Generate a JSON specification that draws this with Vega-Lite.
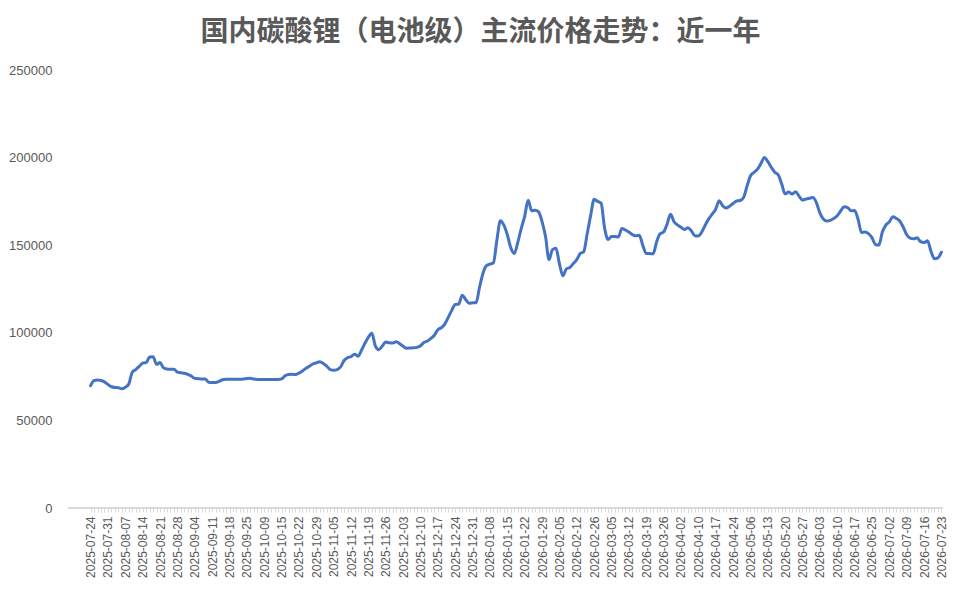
{
  "$schema": "https://vega.github.io/schema/vega-lite/v6.json",
  "width": 875,
  "height": 438,
  "autosize": {"type": "none"},
  "padding": {"left": 68, "top": 70, "right": 17, "bottom": 85},
  "background": "#ffffff",
  "config": {"view": {"stroke": null}, "font": "Liberation Sans"},
  "title": {
    "text": "国内碳酸锂（电池级）主流价格走势：近一年",
    "font": "Noto Sans CJK SC",
    "fontSize": 28,
    "fontWeight": "bold",
    "color": "#595959",
    "anchor": "middle",
    "dx": -25,
    "offset": 17
  },
  "data": {"values": [
    {"date":"2025-07-24","price":69800},{"date":"2025-07-25","price":72800},{"date":"2025-07-28","price":73000},{"date":"2025-07-29","price":72800},{"date":"2025-07-30","price":72000},
    {"date":"2025-07-31","price":70500},{"date":"2025-08-01","price":69200},{"date":"2025-08-04","price":68800},{"date":"2025-08-05","price":68700},{"date":"2025-08-06","price":68000},
    {"date":"2025-08-07","price":68900},{"date":"2025-08-08","price":70800},{"date":"2025-08-11","price":77500},{"date":"2025-08-12","price":79000},{"date":"2025-08-13","price":80800},
    {"date":"2025-08-14","price":82700},{"date":"2025-08-15","price":83000},{"date":"2025-08-18","price":86200},{"date":"2025-08-19","price":86300},{"date":"2025-08-20","price":82000},
    {"date":"2025-08-21","price":83000},{"date":"2025-08-22","price":80000},{"date":"2025-08-25","price":79300},{"date":"2025-08-26","price":79200},{"date":"2025-08-27","price":79200},
    {"date":"2025-08-28","price":77600},{"date":"2025-08-29","price":77200},{"date":"2025-09-01","price":76900},{"date":"2025-09-02","price":76300},{"date":"2025-09-03","price":75300},
    {"date":"2025-09-04","price":74000},{"date":"2025-09-05","price":73800},{"date":"2025-09-08","price":73600},{"date":"2025-09-09","price":73600},{"date":"2025-09-10","price":71800},
    {"date":"2025-09-11","price":71700},{"date":"2025-09-12","price":71700},{"date":"2025-09-15","price":72300},{"date":"2025-09-16","price":73200},{"date":"2025-09-17","price":73500},
    {"date":"2025-09-18","price":73500},{"date":"2025-09-19","price":73500},{"date":"2025-09-22","price":73500},{"date":"2025-09-23","price":73500},{"date":"2025-09-24","price":73600},
    {"date":"2025-09-25","price":73900},{"date":"2025-09-26","price":74000},{"date":"2025-09-28","price":73600},{"date":"2025-09-29","price":73400},{"date":"2025-09-30","price":73400},
    {"date":"2025-10-09","price":73400},{"date":"2025-10-10","price":73400},{"date":"2025-10-11","price":73400},{"date":"2025-10-13","price":73400},{"date":"2025-10-14","price":73400},
    {"date":"2025-10-15","price":73700},{"date":"2025-10-16","price":75500},{"date":"2025-10-17","price":76200},{"date":"2025-10-20","price":76300},{"date":"2025-10-21","price":76200},
    {"date":"2025-10-22","price":77000},{"date":"2025-10-23","price":78200},{"date":"2025-10-24","price":79700},{"date":"2025-10-27","price":80900},{"date":"2025-10-28","price":82200},
    {"date":"2025-10-29","price":82800},{"date":"2025-10-30","price":83500},{"date":"2025-10-31","price":82500},{"date":"2025-11-03","price":81000},{"date":"2025-11-04","price":79000},
    {"date":"2025-11-05","price":78600},{"date":"2025-11-06","price":79000},{"date":"2025-11-07","price":80500},{"date":"2025-11-10","price":84200},{"date":"2025-11-11","price":85800},
    {"date":"2025-11-12","price":86400},{"date":"2025-11-13","price":87800},{"date":"2025-11-14","price":86600},{"date":"2025-11-17","price":90000},{"date":"2025-11-18","price":94000},
    {"date":"2025-11-19","price":97500},{"date":"2025-11-20","price":99700},{"date":"2025-11-21","price":92500},{"date":"2025-11-24","price":90300},{"date":"2025-11-25","price":92500},
    {"date":"2025-11-26","price":94700},{"date":"2025-11-27","price":94300},{"date":"2025-11-28","price":94200},{"date":"2025-12-01","price":94900},{"date":"2025-12-02","price":93800},
    {"date":"2025-12-03","price":92300},{"date":"2025-12-04","price":91200},{"date":"2025-12-05","price":91300},{"date":"2025-12-08","price":91400},{"date":"2025-12-09","price":91700},
    {"date":"2025-12-10","price":92600},{"date":"2025-12-11","price":94500},{"date":"2025-12-12","price":95300},{"date":"2025-12-15","price":96800},{"date":"2025-12-16","price":98600},
    {"date":"2025-12-17","price":101800},{"date":"2025-12-18","price":102900},{"date":"2025-12-19","price":105000},{"date":"2025-12-22","price":108800},{"date":"2025-12-23","price":112800},
    {"date":"2025-12-24","price":116200},{"date":"2025-12-25","price":116300},{"date":"2025-12-26","price":121500},{"date":"2025-12-29","price":119000},{"date":"2025-12-30","price":116900},
    {"date":"2025-12-31","price":117100},{"date":"2026-01-04","price":117200},{"date":"2026-01-05","price":126000},{"date":"2026-01-06","price":134000},{"date":"2026-01-07","price":138300},
    {"date":"2026-01-08","price":139200},{"date":"2026-01-09","price":140000},{"date":"2026-01-12","price":153000},{"date":"2026-01-13","price":164000},{"date":"2026-01-14","price":161500},
    {"date":"2026-01-15","price":156000},{"date":"2026-01-16","price":148500},{"date":"2026-01-19","price":145200},{"date":"2026-01-20","price":151500},{"date":"2026-01-21","price":159500},
    {"date":"2026-01-22","price":166500},{"date":"2026-01-23","price":175600},{"date":"2026-01-26","price":169700},{"date":"2026-01-27","price":170000},{"date":"2026-01-28","price":169000},
    {"date":"2026-01-29","price":163500},{"date":"2026-01-30","price":155000},{"date":"2026-02-02","price":141800},{"date":"2026-02-03","price":147500},{"date":"2026-02-04","price":148300},
    {"date":"2026-02-05","price":139500},{"date":"2026-02-06","price":132500},{"date":"2026-02-09","price":136500},{"date":"2026-02-10","price":137300},{"date":"2026-02-11","price":139500},
    {"date":"2026-02-12","price":141800},{"date":"2026-02-13","price":145200},{"date":"2026-02-14","price":146300},{"date":"2026-02-24","price":156500},{"date":"2026-02-25","price":167000},
    {"date":"2026-02-26","price":176200},{"date":"2026-02-27","price":175000},{"date":"2026-03-02","price":174000},{"date":"2026-03-03","price":160000},{"date":"2026-03-04","price":153200},
    {"date":"2026-03-05","price":154900},{"date":"2026-03-06","price":155000},{"date":"2026-03-09","price":154700},{"date":"2026-03-10","price":159600},{"date":"2026-03-11","price":158700},
    {"date":"2026-03-12","price":157500},{"date":"2026-03-13","price":156000},{"date":"2026-03-16","price":155400},{"date":"2026-03-17","price":155700},{"date":"2026-03-18","price":150000},
    {"date":"2026-03-19","price":145300},{"date":"2026-03-20","price":145200},{"date":"2026-03-23","price":145100},{"date":"2026-03-24","price":152000},{"date":"2026-03-25","price":156500},
    {"date":"2026-03-26","price":157500},{"date":"2026-03-27","price":162000},{"date":"2026-03-30","price":167600},{"date":"2026-03-31","price":163400},{"date":"2026-04-01","price":161600},
    {"date":"2026-04-02","price":160200},{"date":"2026-04-03","price":158900},{"date":"2026-04-07","price":160000},{"date":"2026-04-08","price":158200},{"date":"2026-04-09","price":155400},
    {"date":"2026-04-10","price":155300},{"date":"2026-04-13","price":157500},{"date":"2026-04-14","price":161500},{"date":"2026-04-15","price":165000},{"date":"2026-04-16","price":167800},
    {"date":"2026-04-17","price":170500},{"date":"2026-04-20","price":175400},{"date":"2026-04-21","price":172500},{"date":"2026-04-22","price":171200},{"date":"2026-04-23","price":172300},
    {"date":"2026-04-24","price":173800},{"date":"2026-04-27","price":175200},{"date":"2026-04-28","price":175500},{"date":"2026-04-29","price":177100},{"date":"2026-04-30","price":183500},
    {"date":"2026-05-06","price":189500},{"date":"2026-05-07","price":191500},{"date":"2026-05-08","price":193300},{"date":"2026-05-11","price":196500},{"date":"2026-05-12","price":200000},
    {"date":"2026-05-13","price":197800},{"date":"2026-05-14","price":194500},{"date":"2026-05-15","price":191700},{"date":"2026-05-18","price":190200},{"date":"2026-05-19","price":185000},
    {"date":"2026-05-20","price":179300},{"date":"2026-05-21","price":180300},{"date":"2026-05-22","price":179200},{"date":"2026-05-25","price":180500},{"date":"2026-05-26","price":178000},
    {"date":"2026-05-27","price":175800},{"date":"2026-05-28","price":176300},{"date":"2026-05-29","price":176800},{"date":"2026-06-01","price":177200},{"date":"2026-06-02","price":174300},
    {"date":"2026-06-03","price":168500},{"date":"2026-06-04","price":165000},{"date":"2026-06-05","price":163800},{"date":"2026-06-08","price":164200},{"date":"2026-06-09","price":165200},
    {"date":"2026-06-10","price":166800},{"date":"2026-06-11","price":169500},{"date":"2026-06-12","price":171900},{"date":"2026-06-15","price":171500},{"date":"2026-06-16","price":169600},
    {"date":"2026-06-17","price":169800},{"date":"2026-06-18","price":164800},{"date":"2026-06-22","price":157200},{"date":"2026-06-23","price":157500},{"date":"2026-06-24","price":156600},
    {"date":"2026-06-25","price":154300},{"date":"2026-06-26","price":150400},{"date":"2026-06-29","price":150000},{"date":"2026-06-30","price":157500},{"date":"2026-07-01","price":161500},
    {"date":"2026-07-02","price":163300},{"date":"2026-07-03","price":166200},{"date":"2026-07-06","price":165300},{"date":"2026-07-07","price":163800},{"date":"2026-07-08","price":160400},
    {"date":"2026-07-09","price":156000},{"date":"2026-07-10","price":154100},{"date":"2026-07-13","price":153700},{"date":"2026-07-14","price":154200},{"date":"2026-07-15","price":152000},
    {"date":"2026-07-16","price":151500},{"date":"2026-07-17","price":152500},{"date":"2026-07-20","price":146500},{"date":"2026-07-21","price":142300},{"date":"2026-07-22","price":142800},
    {"date":"2026-07-23","price":146000}
  ]},
  "layer": [
    {
      "mark": {"type": "rule", "color": "#d9d9d9", "strokeWidth": 1},
      "encoding": {"y": {"datum": 0}}
    },
    {
      "mark": {"type": "line", "color": "#4472C4", "strokeWidth": 3, "interpolate": "monotone", "strokeJoin": "round", "strokeCap": "round"},
      "encoding": {
        "x": {
          "field": "date",
          "type": "ordinal",
          "sort": null,
          "scale": {"type": "point", "range": [22.6, 873.4], "padding": 0, "round": false},
          "axis": {
            "title": null,
            "labelAngle": -90,
            "labelFont": "Liberation Sans",
            "labelFontSize": 12,
            "labelColor": "#595959",
            "labelPadding": 4,
            "labelOverlap": false,
            "labelExpr": "indexof(['2025-07-24','2025-07-31','2025-08-07','2025-08-14','2025-08-21','2025-08-28','2025-09-04','2025-09-11','2025-09-18','2025-09-25','2025-10-09','2025-10-15','2025-10-22','2025-10-29','2025-11-05','2025-11-12','2025-11-19','2025-11-26','2025-12-03','2025-12-10','2025-12-17','2025-12-24','2025-12-31','2026-01-08','2026-01-15','2026-01-22','2026-01-29','2026-02-05','2026-02-12','2026-02-26','2026-03-05','2026-03-12','2026-03-19','2026-03-26','2026-04-02','2026-04-10','2026-04-17','2026-04-24','2026-05-06','2026-05-13','2026-05-20','2026-05-27','2026-06-03','2026-06-10','2026-06-17','2026-06-25','2026-07-02','2026-07-09','2026-07-16','2026-07-23'], datum.value) >= 0 ? datum.value : ''",
            "domain": false,
            "tickColor": "#d9d9d9",
            "tickSize": 4,
            "grid": false
          }
        },
        "y": {
          "field": "price",
          "type": "quantitative",
          "scale": {"domain": [0, 250000], "nice": false, "zero": true},
          "axis": {
            "title": null,
            "values": [0, 50000, 100000, 150000, 200000, 250000],
            "format": "d",
            "labelFont": "Liberation Sans",
            "labelFontSize": 13,
            "labelColor": "#595959",
            "labelPadding": 16,
            "domain": false,
            "ticks": false,
            "grid": false
          }
        }
      }
    }
  ]
}
